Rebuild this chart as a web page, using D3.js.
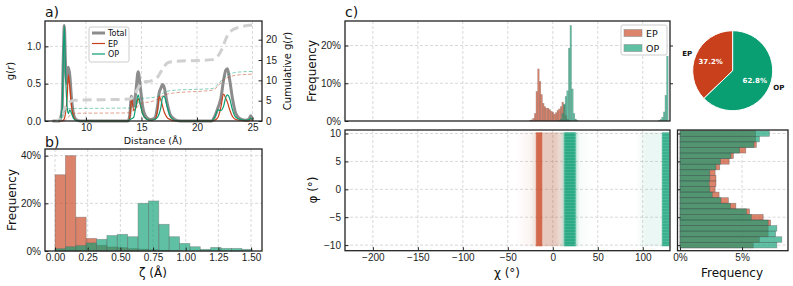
<!DOCTYPE html>
<html lang="en">
<head>
<meta charset="UTF-8" />
<title>EP / OP structure</title>
<script src="https://d3js.org/d3.v7.min.js"></script>
<style>
  body { margin: 0; background: #fff; }
  svg { font-family: "DejaVu Sans", sans-serif; }
  .tick text { font-size: 10px; fill: #222; }
  .tick line { stroke: #222; }
</style>
</head>
<body>
<svg id="fig" width="793" height="286"></svg>
<script>
// ---- panel a: radial distribution g(r) ----
const rVals   = [7.0, 7.6, 7.85, 7.95, 8.05, 8.15, 8.3, 8.42, 8.55, 8.7, 8.9, 9.1, 9.5, 13.8, 13.95, 14.1, 14.3, 14.5, 14.7, 14.9, 15.1, 15.4, 15.8, 16.2, 16.45, 16.6, 16.75, 16.9, 17.05, 17.3, 17.6, 18.0, 18.5, 21.3, 21.6, 21.9, 22.15, 22.4, 22.6, 22.75, 22.95, 23.2, 23.5, 23.9, 24.4, 24.7, 24.85, 25.0];
const gTotal  = [0, 0, 0.15, 0.8, 1.28, 0.8, 0.5, 0.72, 0.6, 0.3, 0.08, 0.02, 0, 0, 0.08, 0.33, 0.2, 0.4, 0.66, 0.45, 0.2, 0.06, 0.02, 0.04, 0.2, 0.38, 0.44, 0.49, 0.45, 0.25, 0.08, 0.02, 0, 0, 0.06, 0.18, 0.3, 0.55, 0.68, 0.7, 0.55, 0.3, 0.1, 0.03, 0.01, 0.03, 0.07, 0.02];
const gEP     = [0, 0, 0, 0.01, 0.03, 0.1, 0.3, 0.62, 0.45, 0.2, 0.05, 0.01, 0, 0, 0.05, 0.31, 0.14, 0.18, 0.3, 0.22, 0.1, 0.03, 0.01, 0.02, 0.15, 0.33, 0.28, 0.2, 0.12, 0.05, 0.02, 0, 0, 0, 0.01, 0.05, 0.18, 0.36, 0.3, 0.25, 0.15, 0.06, 0.02, 0.01, 0, 0, 0.02, 0];
const gOP     = [0, 0, 0.15, 0.8, 1.27, 0.7, 0.2, 0.1, 0.15, 0.1, 0.03, 0.01, 0, 0, 0.02, 0.03, 0.05, 0.2, 0.35, 0.22, 0.1, 0.03, 0.01, 0.02, 0.05, 0.1, 0.18, 0.32, 0.33, 0.2, 0.06, 0.01, 0, 0, 0.05, 0.15, 0.14, 0.2, 0.32, 0.35, 0.3, 0.15, 0.05, 0.02, 0.01, 0.02, 0.04, 0.01];
// cumulative g(r)
const rCum     = [7.0, 7.85, 8.05, 8.3, 8.6, 9.0, 14.0, 14.3, 14.6, 14.9, 15.2, 15.8, 16.4, 16.9, 17.3, 17.7, 21.4, 21.9, 22.3, 22.7, 23.1, 23.6, 25.0];
const cumTotal = [0, 0.5, 2.8, 4.0, 4.8, 5.1, 5.4, 6.2, 7.6, 9.0, 9.6, 9.8, 10.6, 12.8, 14.2, 14.6, 15.1, 16.0, 18.0, 20.8, 22.2, 22.9, 23.6];
const cumEP    = [0, 0, 0.1, 0.6, 1.5, 1.9, 2.0, 2.8, 3.4, 4.1, 4.5, 4.7, 5.3, 6.2, 6.6, 6.8, 7.6, 8.6, 9.9, 10.6, 11.0, 11.3, 11.5];
const cumOP    = [0, 0.4, 2.3, 2.9, 3.1, 3.1, 3.2, 3.3, 4.2, 5.2, 5.6, 5.7, 6.0, 6.8, 7.3, 7.5, 8.0, 9.0, 10.3, 11.2, 11.7, 12.0, 12.2];
const aXTicks = [10, 15, 20, 25];
const aYTicks = [0, 0.5, 1.0];
const aCumTicks = [0, 5, 10, 15, 20];

// ---- panel b: zeta histograms (19 bins) ----
const zetaBinWidth = 0.0794;
const zetaEP = [32.0, 40.0, 14.2, 5.3, 2.4, 1.7, 1.4, 1.0, 0.8, 0.5, 0.3, 0.1, 0, 0, 0, 0, 0, 0, 0];
const zetaOP = [1.0, 1.8, 2.3, 3.4, 4.9, 6.5, 7.0, 6.0, 20.0, 21.0, 11.2, 6.0, 3.2, 1.8, 0.7, 1.5, 1.1, 1.1, 0.7];
const bXTicks = [0, 0.25, 0.5, 0.75, 1.0, 1.25, 1.5];
const bYTicks = [0, 0.2, 0.4];

// ---- panel c: chi histogram (bin width 1.8) ----
const chiBinWidth = 1.8;
const chiCentersEP = [-25.0, -23.2, -21.4, -19.6, -17.8, -16.0, -14.2, -12.4, -10.6, -8.8, -7.0, -5.2, -3.4, -1.6, 0.2, 2.0, 3.8, 5.6, 7.4, 9.2, 11.0, 12.8, 14.6, 16.4, 18.2];
const chiEP        = [0.2, 0.3, 0.7, 2.0, 7.8, 13.8, 10.5, 7.0, 4.7, 3.8, 3.4, 3.4, 3.0, 2.6, 2.3, 1.8, 2.2, 2.8, 3.2, 3.8, 5.0, 4.2, 1.5, 0.5, 0.2];
const chiCentersOP = [7.4, 9.2, 11.0, 12.8, 14.6, 16.4, 18.2, 20.0, 21.8, 23.6, 25.4, 27.2, 118.4, 120.2, 122.0, 123.8, 125.6, 127.4];
const chiOP        = [0.2, 0.5, 2.0, 4.5, 6.5, 8.0, 19.3, 25.3, 8.5, 2.0, 0.5, 0.2, 0.2, 0.4, 1.0, 2.4, 6.8, 17.2];
const cXTicks = [-200, -150, -100, -50, 0, 50, 100];
const cYTicks = [0, 0.1, 0.2];

// ---- panel c: scatter density bands (chi ranges in deg, relative density) ----
const bandSeries  = ["EP", "OP", "EP", "OP", "OP", "EP", "OP", "OP"];
const bandChiMin  = [-42, -30, -24, 8, 92, -19, 12, 121];
const bandChiMax  = [30, 45, 14, 30, 130, -11.5, 26, 130];
const bandDensity = [0.07, 0.05, 0.2, 0.3, 0.08, 0.72, 0.8, 0.8];
const phiTicks = [-10, -5, 0, 5, 10];

// ---- panel c: phi histogram ----
const phiBins = [10, 9, 8, 7, 6, 5, 4, 3, 2, 1, 0, -1, -2, -3, -4, -5, -6, -7, -8, -9, -10];
const phiEP   = [6.1, 6.1, 6.15, 5.3, 4.3, 3.96, 3.2, 2.83, 2.9, 2.9, 2.83, 3.15, 3.9, 4.5, 5.6, 6.7, 7.3, 7.1, 7.1, 6.4, 5.9];
const phiOP   = [7.2, 6.4, 5.96, 4.8, 4.1, 3.26, 2.9, 2.4, 2.4, 2.35, 2.4, 2.6, 3.3, 4.06, 5.35, 5.75, 7.1, 7.8, 7.7, 8.2, 7.8];
const phiXTicks = [0, 0.05];

// ---- pie ----
const pieLabels = ["EP", "OP"];
const pieShares = [37.2, 62.8];

const RED = "#c8401c", GREEN = "#0a9e73";
const colorOf = { EP: RED, OP: GREEN };
const svg = d3.select("#fig");
const defs = svg.append("defs");

function frame(x0, y0, x1, y1) {
  svg.append("rect")
    .attr("x", x0).attr("y", y0)
    .attr("width", x1 - x0).attr("height", y1 - y0)
    .attr("fill", "none").attr("stroke", "#222").attr("stroke-width", 1.3);
}

function gridV(x, ticks, y0, y1) {
  svg.append("g").selectAll("line").data(ticks).join("line")
    .attr("x1", d => x(d)).attr("x2", d => x(d))
    .attr("y1", y0).attr("y2", y1)
    .attr("stroke", "#c8c8c8").attr("stroke-width", 0.7).attr("stroke-dasharray", "3,2");
}
function gridH(y, ticks, x0, x1) {
  svg.append("g").selectAll("line").data(ticks).join("line")
    .attr("y1", d => y(d)).attr("y2", d => y(d))
    .attr("x1", x0).attr("x2", x1)
    .attr("stroke", "#c8c8c8").attr("stroke-width", 0.7).attr("stroke-dasharray", "3,2");
}

function axis(gen, tx, ty) {
  const g = svg.append("g").attr("transform", `translate(${tx},${ty})`).call(gen);
  g.select(".domain").remove();
  return g;
}

function label(x, y, txt, size, opts = {}) {
  const t = svg.append("text")
    .attr("x", x).attr("y", y)
    .attr("text-anchor", opts.anchor || "middle")
    .attr("font-size", size)
    .attr("fill", opts.fill || "#111");
  if (opts.rotate) t.attr("transform", `rotate(-90,${x},${y})`);
  if (opts.weight) t.attr("font-weight", opts.weight);
  if (opts.html) t.html(txt); else t.text(txt);
  return t;
}

const pct = d3.format(".0%");
const minus = d => String(d).replace("-", "\u2212");

// ===================== panel a =====================
{
  const L = 45, R = 262, T = 21, B = 121;
  const x = d3.scaleLinear().domain([6.31, 25.86]).range([L, R]);
  const y = d3.scaleLinear().domain([0, 1.34]).range([B, T]);
  const y2 = d3.scaleLinear().domain([0, 24.6]).range([B, T]);

  gridV(x, aXTicks, T, B);
  gridH(y, [0.5, 1.0], L, R);

  const rows = rVals.map((r, i) => ({ r, t: gTotal[i], ep: gEP[i], op: gOP[i] }));
  const line = key => d3.line().x(d => x(d.r)).y(d => y(d[key])).curve(d3.curveMonotoneX);

  svg.append("path").datum(rows).attr("d", line("t"))
    .attr("fill", "none").attr("stroke", "#8c8c8c").attr("stroke-width", 3).attr("stroke-linejoin", "round");
  svg.append("path").datum(rows).attr("d", line("ep"))
    .attr("fill", "none").attr("stroke", RED).attr("stroke-width", 1.2);
  svg.append("path").datum(rows).attr("d", line("op"))
    .attr("fill", "none").attr("stroke", GREEN).attr("stroke-width", 1.2);

  const cum = rCum.map((r, i) => ({ r, t: cumTotal[i], ep: cumEP[i], op: cumOP[i] }));
  const cline = key => d3.line().x(d => x(d.r)).y(d => y2(d[key])).curve(d3.curveMonotoneX);
  svg.append("path").datum(cum).attr("d", cline("t"))
    .attr("fill", "none").attr("stroke", "#d0d0d0").attr("stroke-width", 3).attr("stroke-dasharray", "9,5");
  svg.append("path").datum(cum).attr("d", cline("ep"))
    .attr("fill", "none").attr("stroke", RED).attr("stroke-opacity", 0.5).attr("stroke-width", 1).attr("stroke-dasharray", "3.5,2");
  svg.append("path").datum(cum).attr("d", cline("op"))
    .attr("fill", "none").attr("stroke", GREEN).attr("stroke-opacity", 0.5).attr("stroke-width", 1).attr("stroke-dasharray", "3.5,2");

  axis(d3.axisBottom(x).tickValues(aXTicks).tickSize(-3.5).tickPadding(3), 0, B);
  axis(d3.axisLeft(y).tickValues(aYTicks).tickFormat(d3.format(".1f")).tickSize(-3.5).tickPadding(4), L, 0);
  axis(d3.axisRight(y2).tickValues(aCumTicks).tickSize(-3.5).tickPadding(4), R, 0);
  frame(L, T, R, B);

  // legend
  svg.append("rect").attr("x", 89).attr("y", 27).attr("width", 40).attr("height", 35)
    .attr("fill", "#fff").attr("fill-opacity", 0.85).attr("stroke", "#ccc").attr("rx", 2);
  const leg = [["Total", "#8c8c8c", 3], ["EP", RED, 1.2], ["OP", GREEN, 1.2]];
  leg.forEach(([name, c, w], i) => {
    const yy = 33 + i * 10.5;
    svg.append("line").attr("x1", 92).attr("x2", 105).attr("y1", yy).attr("y2", yy)
      .attr("stroke", c).attr("stroke-width", w);
    label(108, yy + 3, name, 8, { anchor: "start" });
  });

  label(45, 17, "a)", 14, { anchor: "start" });
  label(153, 144, "Distance (Å)", 9.5);
  label(14, 71, "g(<tspan font-style='italic'>r</tspan>)", 10, { rotate: true, html: true });
  label(291, 71, "Cumulative g(<tspan font-style='italic'>r</tspan>)", 10, { rotate: true, html: true });
}

// ===================== panel b =====================
{
  const L = 45, R = 262, T = 149, B = 251;
  const x = d3.scaleLinear().domain([-0.0767, 1.5837]).range([L, R]);
  const y = d3.scaleLinear().domain([0, 0.428]).range([B, T]);

  gridV(x, bXTicks, T, B);
  gridH(y, [0.2, 0.4], L, R);

  const bars = (vals, c) => svg.append("g").selectAll("rect").data(vals).join("rect")
    .attr("x", (d, i) => x(i * zetaBinWidth))
    .attr("width", x(zetaBinWidth) - x(0))
    .attr("y", d => y(d / 100))
    .attr("height", d => y(0) - y(d / 100))
    .attr("fill", c).attr("fill-opacity", 0.65)
    .attr("stroke", "#666").attr("stroke-opacity", 0.45).attr("stroke-width", 0.8);
  bars(zetaEP, RED);
  bars(zetaOP, GREEN);

  axis(d3.axisBottom(x).tickValues(bXTicks).tickFormat(d3.format(".2f")).tickSize(-3.5).tickPadding(3), 0, B);
  axis(d3.axisLeft(y).tickValues(bYTicks).tickFormat(pct).tickSize(-3.5).tickPadding(4), L, 0);
  frame(L, T, R, B);

  label(45, 147, "b)", 14, { anchor: "start" });
  label(153, 277, "ζ (Å)", 12);
  label(16, 200, "Frequency", 12, { rotate: true });
}

// ===================== panel c =====================
const cL = 345, cR = 670;
const chiX = d3.scaleLinear().domain([-231, 130.3]).range([cL, cR]);
{
  // top chi histogram
  const T = 21, B = 121;
  const y = d3.scaleLinear().domain([0, 0.265]).range([B, T]);
  gridV(chiX, cXTicks, T, B);
  gridH(y, [0.1, 0.2], cL, cR);

  const bars = (centers, vals, c) => svg.append("g").selectAll("rect").data(vals).join("rect")
    .attr("x", (d, i) => chiX(centers[i] - chiBinWidth / 2))
    .attr("width", chiX(chiBinWidth) - chiX(0))
    .attr("y", d => y(d / 100))
    .attr("height", d => y(0) - y(d / 100))
    .attr("fill", c).attr("fill-opacity", 0.65)
    .attr("stroke", "#666").attr("stroke-opacity", 0.4).attr("stroke-width", 0.5);
  bars(chiCentersEP, chiEP, RED);
  bars(chiCentersOP, chiOP, GREEN);

  axis(d3.axisLeft(y).tickValues(cYTicks).tickFormat(pct).tickSize(-3.5).tickPadding(4), cL, 0);
  axis(d3.axisRight(y).tickValues([0.1, 0.2]).tickFormat("").tickSize(3), cR, 0);
  frame(cL, T, cR, B);

  // legend
  svg.append("rect").attr("x", 621).attr("y", 25).attr("width", 46).attr("height", 30)
    .attr("fill", "#fff").attr("fill-opacity", 0.85).attr("stroke", "#ccc").attr("rx", 2);
  ["EP", "OP"].forEach((s, i) => {
    const yy = 33 + i * 15;
    svg.append("rect").attr("x", 624).attr("y", yy - 3.5).attr("width", 18).attr("height", 7)
      .attr("fill", colorOf[s]).attr("fill-opacity", 0.65).attr("stroke", "#888").attr("stroke-opacity", 0.5);
    label(646, yy + 3.5, s, 9.5, { anchor: "start" });
  });

  label(345, 17, "c)", 14, { anchor: "start" });
  label(316, 71, "Frequency", 12, { rotate: true });
}

{
  // scatter chi vs phi, drawn as soft density bands
  const T = 130, B = 250.7;
  const y = d3.scaleLinear().domain([-11, 10.63]).range([B, T]);
  gridV(chiX, cXTicks, T, B);
  gridH(y, phiTicks, cL, cR);

  bandSeries.forEach((s, i) => {
    const gid = `band-${i}`;
    const core = bandDensity[i] > 0.5;
    const gr = defs.append("linearGradient").attr("id", gid)
      .attr("x1", "0%").attr("x2", "100%").attr("y1", "0%").attr("y2", "0%");
    const stops = core ? [[0, 0.5], [0.15, 1], [0.85, 1], [1, 0.5]]
                       : [[0, 0], [0.3, 1], [0.7, 1], [1, 0]];
    stops.forEach(([o, a]) => gr.append("stop").attr("offset", o)
      .attr("stop-color", colorOf[s]).attr("stop-opacity", a * bandDensity[i]));
  });

  // fine horizontal streak texture over the dense green cores
  const streak = defs.append("pattern").attr("id", "streak")
    .attr("patternUnits", "userSpaceOnUse").attr("width", 3).attr("height", 3);
  streak.append("rect").attr("x", 0).attr("y", 1).attr("width", 3).attr("height", 0.7)
    .attr("fill", "#fff").attr("fill-opacity", 0.14);

  svg.append("g").selectAll("rect").data(bandSeries).join("rect")
    .attr("x", (s, i) => chiX(bandChiMin[i]))
    .attr("width", (s, i) => chiX(bandChiMax[i]) - chiX(bandChiMin[i]))
    .attr("y", y(10.2)).attr("height", y(-10.2) - y(10.2))
    .attr("fill", (s, i) => `url(#band-${i})`);

  const coreIdx = bandSeries.map((s, i) => i).filter(i => bandDensity[i] > 0.5 && bandSeries[i] === "OP");
  svg.append("g").selectAll("rect").data(coreIdx).join("rect")
    .attr("x", i => chiX(bandChiMin[i]))
    .attr("width", i => chiX(bandChiMax[i]) - chiX(bandChiMin[i]))
    .attr("y", y(10.2)).attr("height", y(-10.2) - y(10.2))
    .attr("fill", "url(#streak)");

  axis(d3.axisBottom(chiX).tickValues(cXTicks).tickFormat(minus).tickSize(-3.5).tickPadding(3), 0, B);
  axis(d3.axisLeft(y).tickValues(phiTicks).tickFormat(minus).tickSize(-3.5).tickPadding(4), cL, 0);
  frame(cL, T, cR, B);

  label(507, 277, "χ (°)", 12);
  label(317, 190, "φ (°)", 12, { rotate: true });
}

{
  // phi histogram
  const L = 677.5, R = 788, T = 130, B = 250.7;
  const x = d3.scaleLinear().domain([-0.002, 0.087]).range([L, R]);
  const y = d3.scaleLinear().domain([-11, 10.63]).range([B, T]);
  gridV(x, [0.05], T, B);
  gridH(y, phiTicks, L, R);

  const bars = (vals, c) => svg.append("g").selectAll("rect").data(vals).join("rect")
    .attr("x", x(0))
    .attr("width", d => x(d / 100) - x(0))
    .attr("y", (d, i) => y(phiBins[i] + 0.5))
    .attr("height", y(0) - y(1))
    .attr("fill", c).attr("fill-opacity", 0.65)
    .attr("stroke", "#555").attr("stroke-opacity", 0.5).attr("stroke-width", 0.7);
  bars(phiEP, RED);
  bars(phiOP, GREEN);

  axis(d3.axisBottom(x).tickValues(phiXTicks).tickFormat(pct).tickSize(-3.5).tickPadding(3), 0, B);
  axis(d3.axisLeft(y).tickValues(phiTicks).tickFormat("").tickSize(-3), L, 0);
  frame(L, T, R, B);

  label(732, 277, "Frequency", 12);
}

{
  // pie
  const cx = 732.7, cy = 70.7, r = 40;
  const pie = d3.pie().sort(null)
    .startAngle(-2 * Math.PI * pieShares[0] / 100)
    .endAngle(2 * Math.PI * (1 - pieShares[0] / 100));
  const arcs = pie(pieShares);
  const arc = d3.arc().innerRadius(0).outerRadius(r);
  const g = svg.append("g").attr("transform", `translate(${cx},${cy})`);
  g.selectAll("path").data(arcs).join("path")
    .attr("d", arc)
    .attr("fill", (d, i) => colorOf[pieLabels[i]])
    .attr("stroke", "#fff").attr("stroke-width", 1);

  arcs.forEach((a, i) => {
    const mid = (a.startAngle + a.endAngle) / 2;
    const sx = Math.sin(mid), sy = -Math.cos(mid);
    g.append("text")
      .attr("x", sx * r * 0.6).attr("y", sy * r * 0.6 + 2.5)
      .attr("text-anchor", "middle").attr("font-size", 7).attr("font-weight", "bold")
      .attr("fill", "#fff").text(pieShares[i].toFixed(1) + "%");
    g.append("text")
      .attr("x", sx * r * 1.1).attr("y", sy * r * 1.1 + 2.5)
      .attr("text-anchor", sx < 0 ? "end" : "start").attr("font-size", 7).attr("font-weight", "bold")
      .attr("fill", "#111").text(pieLabels[i]);
  });
}
</script>
</body>
</html>
